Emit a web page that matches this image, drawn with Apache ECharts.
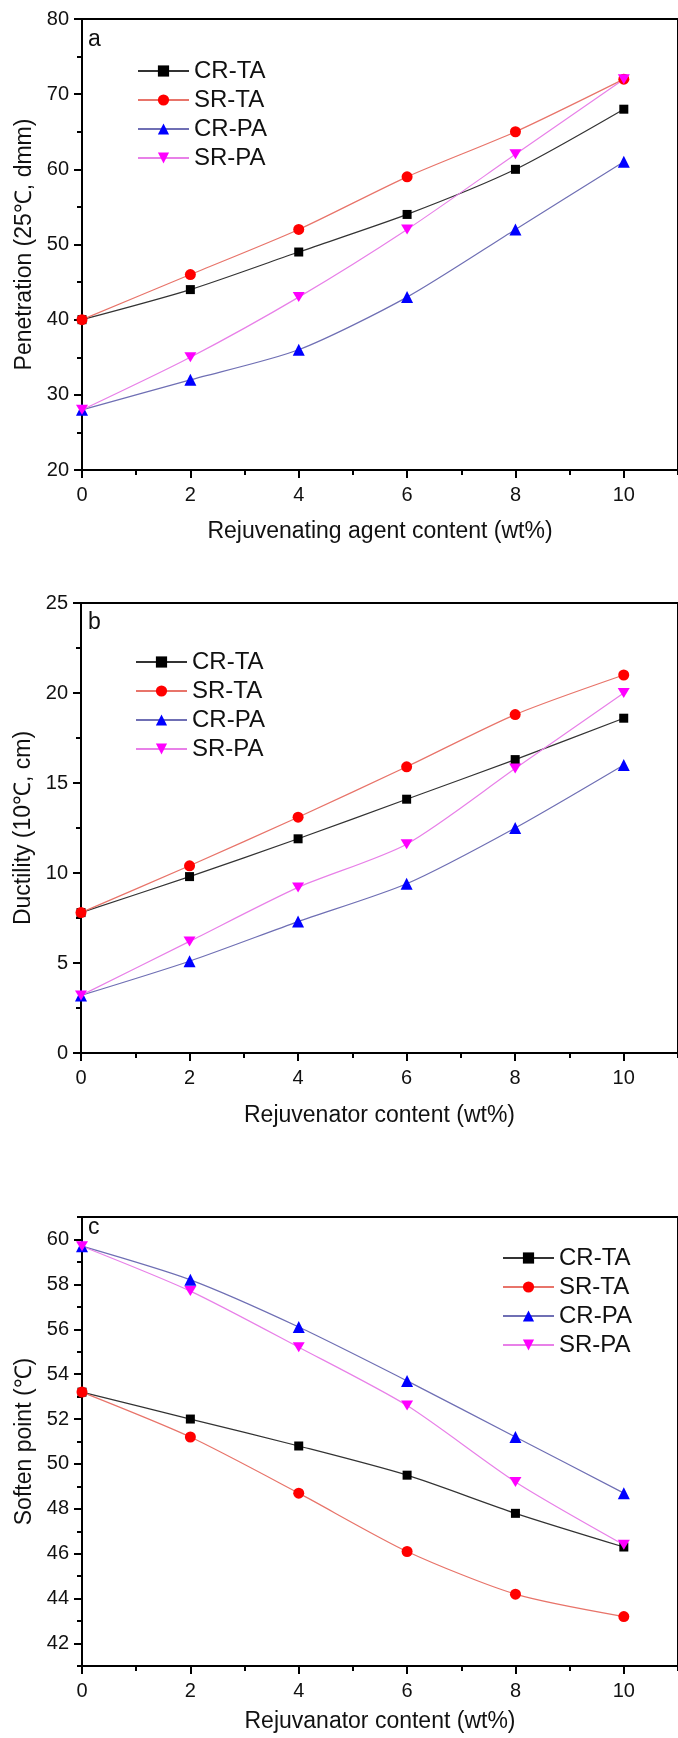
<!DOCTYPE html>
<html lang="en">
<head>
<meta charset="utf-8">
<title>Rejuvenator content charts</title>
<script src="https://cdn.jsdelivr.net/npm/echarts@6/dist/echarts.min.js"></script>
<style>
  html, body { margin: 0; padding: 0; background: #fff; }
  #main { width: 678px; height: 1738px; }
</style>
</head>
<body>
<div id="main"></div>
<script>
// x positions (wt%)
var xValues = [0, 2, 4, 6, 8, 10];
var seriesNames = ['CR-TA', 'SR-TA', 'CR-PA', 'SR-PA'];

// a: penetration (25℃, dmm)
var penCRTA = [40, 44, 49, 54, 60, 68];
var penSRTA = [40, 46, 52, 59, 65, 72];
var penCRPA = [28, 32, 36, 43, 52, 61];
var penSRPA = [28, 35, 43, 52, 62, 72];

// b: ductility (10℃, cm)
var ducCRTA = [7.8, 9.8, 11.9, 14.1, 16.3, 18.6];
var ducSRTA = [7.8, 10.4, 13.1, 15.9, 18.8, 21.0];
var ducCRPA = [3.2, 5.1, 7.3, 9.4, 12.5, 16.0];
var ducSRPA = [3.2, 6.2, 9.2, 11.6, 15.8, 20.0];

// c: soften point (℃)
var sofCRTA = [53.2, 52.0, 50.8, 49.5, 47.8, 46.3];
var sofSRTA = [53.2, 51.2, 48.7, 46.1, 44.2, 43.2];
var sofCRPA = [59.7, 58.2, 56.1, 53.7, 51.2, 48.7];
var sofSRPA = [59.7, 57.7, 55.2, 52.6, 49.2, 46.4];

// tick labels
var xTicks = [0, 2, 4, 6, 8, 10];
var xMinor = [1, 3, 5, 7, 9, 11];
var penTicks = [20, 30, 40, 50, 60, 70, 80];
var penMinor = [25, 35, 45, 55, 65, 75];
var ducTicks = [0, 5, 10, 15, 20, 25];
var ducMinor = [2.5, 7.5, 12.5, 17.5, 22.5];
var sofTicks = [42, 44, 46, 48, 50, 52, 54, 56, 58, 60];
var sofMinor = [41, 43, 45, 47, 49, 51, 53, 55, 57, 59, 61];

var FONT = 'Liberation Sans, Arial, sans-serif';

var markers = [
    {symbol: 'rect', size: 9, color: '#000000', line: '#333333'},
    {symbol: 'circle', size: 11, color: '#ff0000', line: '#e8746a'},
    {symbol: 'triangle', size: 12, color: '#0000ff', line: '#6f6fb4'},
    {symbol: 'path://M0,0 L10,0 L5,8.66 Z', size: [12, 10], color: '#ff00ff', line: '#e880e8'}
];

function xMain(grid, title, gap) {
    return {
        type: 'value', gridIndex: grid, position: 'bottom', min: 0, max: 11,
        name: title, nameLocation: 'middle', nameGap: gap,
        nameTextStyle: {fontSize: 23, fontFamily: FONT, color: '#111'},
        axisLine: {show: true, lineStyle: {color: '#000', width: 2}},
        axisTick: {show: true, inside: false, length: 8, customValues: xTicks, lineStyle: {color: '#000', width: 2}},
        axisLabel: {show: true, customValues: xTicks, fontSize: 20, fontFamily: FONT, color: '#111', margin: 15},
        splitLine: {show: false}
    };
}
function xSmall(grid) {
    return {
        type: 'value', gridIndex: grid, position: 'bottom', min: 0, max: 11,
        axisLine: {show: false},
        axisTick: {show: true, inside: false, length: 5, customValues: xMinor, lineStyle: {color: '#000', width: 2}},
        axisLabel: {show: false}, splitLine: {show: false}
    };
}
function yMain(grid, lo, hi, ticks, title) {
    return {
        type: 'value', gridIndex: grid, position: 'left', min: lo, max: hi,
        name: title, nameLocation: 'middle', nameGap: 38, nameRotate: 90,
        nameTextStyle: {fontSize: 23, fontFamily: FONT, color: '#111'},
        axisLine: {show: true, lineStyle: {color: '#000', width: 2}},
        axisTick: {show: true, inside: false, length: 8, customValues: ticks, lineStyle: {color: '#000', width: 2}},
        axisLabel: {show: true, customValues: ticks, fontSize: 20, fontFamily: FONT, color: '#111', margin: 13},
        splitLine: {show: false}
    };
}
function ySmall(grid, lo, hi, ticks) {
    return {
        type: 'value', gridIndex: grid, position: 'left', min: lo, max: hi,
        axisLine: {show: false},
        axisTick: {show: true, inside: false, length: 5, customValues: ticks, lineStyle: {color: '#000', width: 2}},
        axisLabel: {show: false}, splitLine: {show: false}
    };
}

function makeSeries(axisIdx, arrays) {
    return arrays.map(function (arr, k) {
        var m = markers[k];
        return {
            name: seriesNames[k], type: 'line',
            xAxisIndex: axisIdx, yAxisIndex: axisIdx,
            data: xValues.map(function (x, i) { return [x, arr[i]]; }),
            smooth: 0.25, clip: false,
            symbol: m.symbol, symbolSize: m.size, showSymbol: true,
            itemStyle: {color: m.color},
            lineStyle: {color: m.line, width: 1.2},
            emphasis: {disabled: true}
        };
    });
}

function legendAt(left, top) {
    return {
        orient: 'vertical', left: left, top: top, padding: 0,
        itemWidth: 51, itemHeight: 14, itemGap: 5,
        textStyle: {fontSize: 24, fontFamily: FONT, color: '#111'},
        data: seriesNames, selectedMode: false
    };
}

function panelLabel(txt, left, top) {
    return {text: txt, left: left, top: top, padding: 0,
        textStyle: {fontSize: 23, fontWeight: 'normal', fontFamily: FONT, color: '#111'}};
}

var chart = echarts.init(document.getElementById('main'), null, {renderer: 'canvas'});

var option = {
    backgroundColor: '#fff',
    animation: false,
    title: [
        panelLabel('a', 88, 28),
        panelLabel('b', 88, 611),
        panelLabel('c', 88, 1216)
    ],
    legend: [
        legendAt(137, 59),
        legendAt(135, 650),
        legendAt(502, 1246)
    ],
    grid: [
        {left: 82, top: 19, width: 605, height: 451, show: true, borderColor: '#000', borderWidth: 2, backgroundColor: 'transparent'},
        {left: 81, top: 603, width: 605, height: 450, show: true, borderColor: '#000', borderWidth: 2, backgroundColor: 'transparent'},
        {left: 82, top: 1217, width: 608, height: 449, show: true, borderColor: '#000', borderWidth: 2, backgroundColor: 'transparent'}
    ],
    xAxis: [
        xMain(0, 'Rejuvenating agent content (wt%)', 50), xSmall(0),
        xMain(1, 'Rejuvenator content (wt%)', 51), xSmall(1),
        xMain(2, 'Rejuvanator content (wt%)', 44), xSmall(2)
    ],
    yAxis: [
        yMain(0, 20, 80, penTicks, 'Penetration (25℃, dmm)'), ySmall(0, 20, 80, penMinor),
        yMain(1, 0, 25, ducTicks, 'Ductility (10℃, cm)'), ySmall(1, 0, 25, ducMinor),
        yMain(2, 41, 61, sofTicks, 'Soften point (℃)'), ySmall(2, 41, 61, sofMinor)
    ],
    series: [].concat(
        makeSeries(0, [penCRTA, penSRTA, penCRPA, penSRPA]),
        makeSeries(2, [ducCRTA, ducSRTA, ducCRPA, ducSRPA]),
        makeSeries(4, [sofCRTA, sofSRTA, sofCRPA, sofSRPA])
    )
};

chart.setOption(option);
</script>
</body>
</html>
